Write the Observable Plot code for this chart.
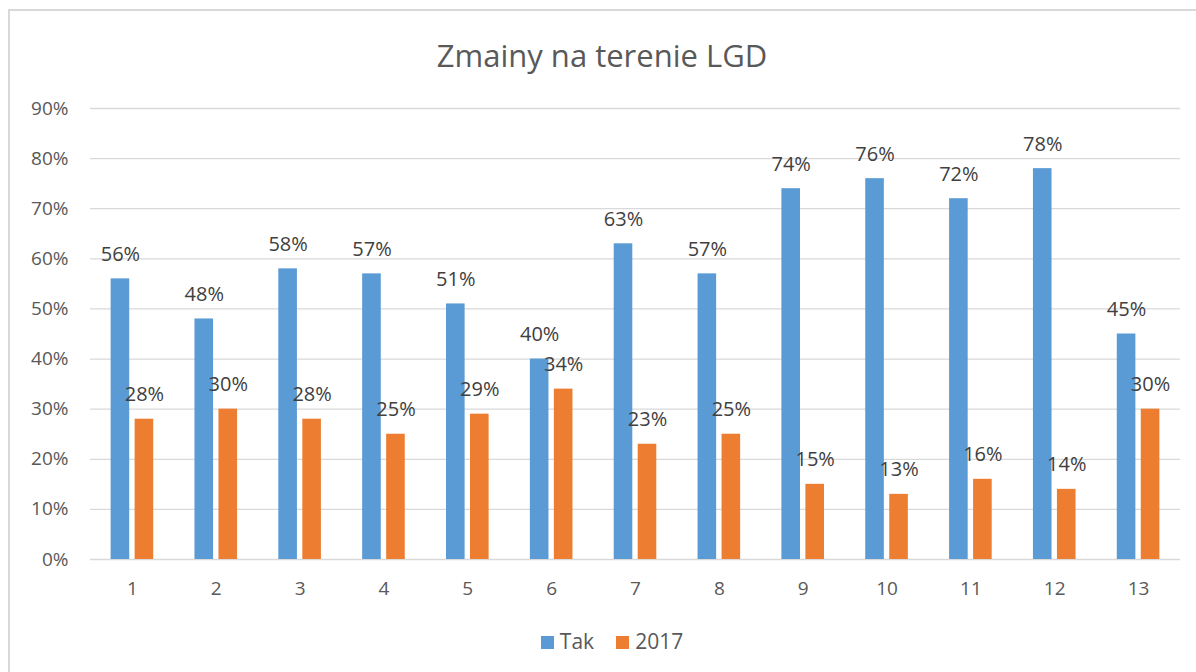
<!DOCTYPE html>
<html>
<head>
<meta charset="utf-8">
<script src="https://cdn.jsdelivr.net/npm/d3@7"></script>
<script src="https://cdn.jsdelivr.net/npm/@observablehq/plot@0.6"></script>
<style>
  html, body { margin: 0; padding: 0; background: #fff; }
  #wrap { position: relative; width: 1196px; height: 672px; overflow: hidden; font-family: "Open Sans", Lato, sans-serif; }
  #frame { position: absolute; left: 8px; top: 9px; width: 1300px; height: 800px; border-left: 2px solid #d9d9d9; border-top: 2px solid #d9d9d9; }
  #title { position: absolute; left: 4px; width: 1196px; top: 34px; line-height: 42px; text-align: center; font-size: 31px; color: #595959; }
  #chart { position: absolute; left: 0; top: 90px; }
  #legend { position: absolute; left: 14px; width: 1196px; top: 626px; line-height: 30px; text-align: center; font-size: 21px; color: #595959; }
  #legend span.item { display: inline-block; margin: 0 11px; }
  #legend span.sw { display: inline-block; width: 13px; height: 13px; margin-right: 6px; vertical-align: 0px; }
</style>
</head>
<body>
<div id="wrap">
  <div id="frame"></div>
  <div id="title">Zmainy na terenie LGD</div>
  <div id="chart"></div>
  <div id="legend"></div>
</div>
<script>
const categories = ["1","2","3","4","5","6","7","8","9","10","11","12","13"];
const seriesNames = ["Tak", "2017"];
const takValues = [0.56,0.48,0.58,0.57,0.51,0.40,0.63,0.57,0.74,0.76,0.72,0.78,0.45];
const y2017Values = [0.28,0.30,0.28,0.25,0.29,0.34,0.23,0.25,0.15,0.13,0.16,0.14,0.30];
const yTicks = [0,0.1,0.2,0.3,0.4,0.5,0.6,0.7,0.8,0.9];
const colors = ["#5B9BD5", "#ED7D31"];

const tak = categories.map((c, i) => ({cat: c, value: takValues[i], series: seriesNames[0]}));
const y17 = categories.map((c, i) => ({cat: c, value: y2017Values[i], series: seriesNames[1]}));

const barW = 18.6;
const off = 12;
const bandW = (1180 - 90) / 13;
const inset = (bandW - barW) / 2;

const fmt = d => Math.round(d * 100) + "%";

const chart = Plot.plot({
  width: 1196,
  height: 520,
  marginLeft: 90,
  marginRight: 16,
  marginTop: 18,
  marginBottom: 51,
  style: {fontFamily: '"Open Sans", Lato, sans-serif', fontSize: "19px", color: "#595959", background: "transparent"},
  x: {domain: categories, padding: 0, round: false, label: null, tickSize: 0, tickPadding: 22},
  y: {domain: [0, 0.9], ticks: yTicks, tickFormat: fmt, label: null, tickSize: 0, tickPadding: 22},
  marks: [
    Plot.ruleY(yTicks, {stroke: "#d9d9d9", strokeWidth: 1.3}),
    Plot.barY(tak, {x: "cat", y: "value", fill: colors[0], insetLeft: inset, insetRight: inset, dx: -off}),
    Plot.barY(y17, {x: "cat", y: "value", fill: colors[1], insetLeft: inset, insetRight: inset, dx: off}),
    Plot.text(tak, {x: "cat", y: "value", text: d => fmt(d.value), dx: -off, dy: -18, lineAnchor: "bottom", fill: "#404040", fontSize: 20}),
    Plot.text(y17, {x: "cat", y: "value", text: d => fmt(d.value), dx: off, dy: -18, lineAnchor: "bottom", fill: "#404040", fontSize: 20})
  ]
});
document.getElementById("chart").appendChild(chart);

const legend = document.getElementById("legend");
seriesNames.forEach((s, i) => {
  const item = document.createElement("span");
  item.className = "item";
  const sw = document.createElement("span");
  sw.className = "sw";
  sw.style.background = colors[i];
  item.appendChild(sw);
  item.appendChild(document.createTextNode(s));
  legend.appendChild(item);
});
</script>
</body>
</html>
